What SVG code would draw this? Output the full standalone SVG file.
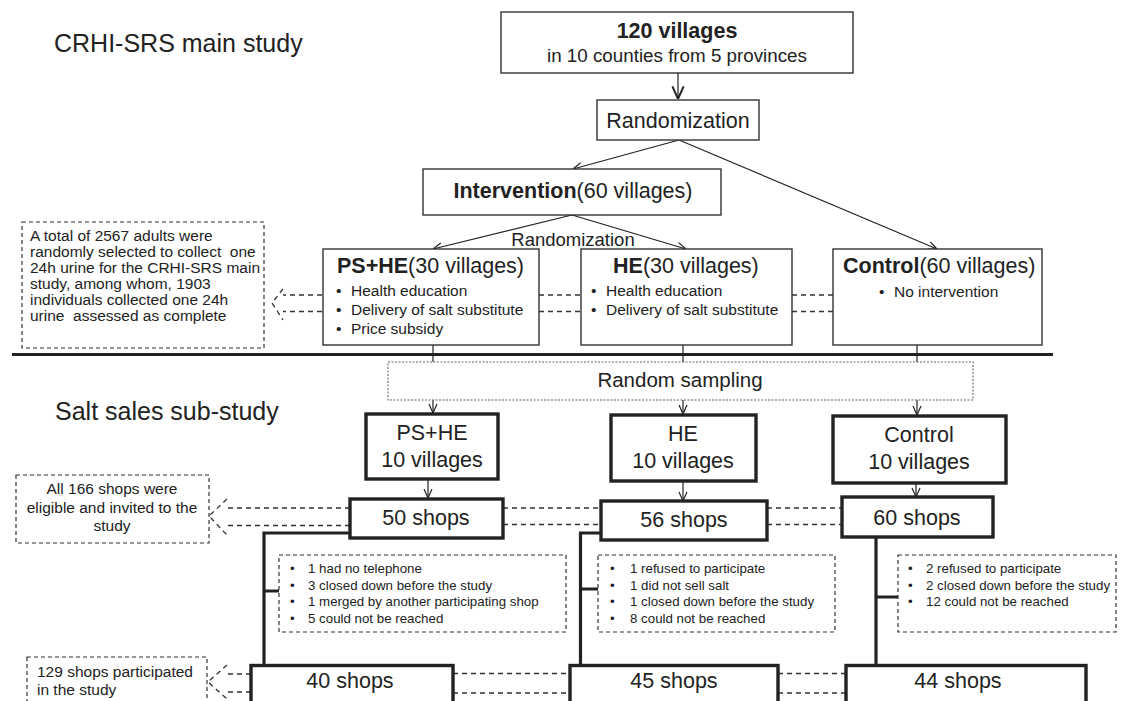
<svg xmlns="http://www.w3.org/2000/svg" width="1124" height="701" viewBox="0 0 1124 701">
<defs>
<style>
text{font-family:"Liberation Sans",Arial,sans-serif;fill:#222}
.box{fill:#fff;stroke:#333;stroke-width:1.4}
.tbox{fill:#fff;stroke:#222;stroke-width:3.4}
.note{fill:#fff;stroke:#333;stroke-width:1.2;stroke-dasharray:4,3}
.samp{fill:#fff;stroke:#666;stroke-width:1.1;stroke-dasharray:2,1.5}
.ln{stroke:#222;stroke-width:1.2;fill:none}
.dl{stroke:#333;stroke-width:1.3;fill:none;stroke-dasharray:5,4}
.th{stroke:#222;stroke-width:3.2;fill:none}
.t21{font-size:21.5px}
.t15{font-size:15.5px}
.t14{font-size:13.3px}
.big{font-size:25px}
.b{font-weight:bold}
.m{text-anchor:middle}
.pre{white-space:pre}
</style>
<marker id="arr" viewBox="0 0 10 10" refX="10" refY="5" markerWidth="10" markerHeight="10" markerUnits="userSpaceOnUse" orient="auto">
<path d="M1,1 L10,5 L1,9" fill="none" stroke="#222" stroke-width="1.2"/>
</marker>
<marker id="arrB" viewBox="0 0 10 10" refX="10" refY="5" markerWidth="14" markerHeight="14" markerUnits="userSpaceOnUse" orient="auto">
<path d="M1,1 L10,5 L1,9" fill="none" stroke="#222" stroke-width="1.4"/>
</marker>
</defs>

<text class="big" x="54" y="52">CRHI-SRS main study</text>
<text class="big" x="55" y="420">Salt sales sub-study</text>
<line x1="12" y1="354.5" x2="1053" y2="354.5" stroke="#222" stroke-width="3"/>

<g id="connectors">
<line class="ln" x1="678" y1="73" x2="678" y2="99" stroke-width="2" marker-end="url(#arrB)"/>
<line class="ln" x1="679" y1="140" x2="573" y2="169" marker-end="url(#arr)"/>
<line class="ln" x1="679" y1="140" x2="937" y2="249" marker-end="url(#arr)"/>
<line class="ln" x1="572" y1="215" x2="433" y2="249" marker-end="url(#arr)"/>
<line class="ln" x1="572" y1="215" x2="686" y2="249" marker-end="url(#arr)"/>
<line class="ln" x1="433" y1="345" x2="433" y2="362"/>
<line class="ln" x1="683" y1="345" x2="683" y2="362"/>
<line class="ln" x1="917" y1="345" x2="917" y2="362"/>
<line class="ln" x1="433" y1="400" x2="433" y2="413" marker-end="url(#arr)"/>
<line class="ln" x1="683" y1="400" x2="683" y2="414" marker-end="url(#arr)"/>
<line class="ln" x1="917" y1="400" x2="917" y2="415" marker-end="url(#arr)"/>
<line class="ln" x1="428" y1="480" x2="428" y2="498" marker-end="url(#arr)"/>
<line class="ln" x1="683" y1="481" x2="683" y2="501" marker-end="url(#arr)"/>
<line class="ln" x1="916" y1="483" x2="916" y2="497" marker-end="url(#arr)"/>
<path class="dl" d="M322,295 H283 M322,311.5 H283 M283,289 L272,303 L283,320"/>
<path class="dl" d="M539,295 H581 M539,311.5 H581 M792,295 H833 M792,311.5 H833"/>
<path class="dl" d="M350,508 H227 M350,525.5 H227 M227,499 L209,516 L227,535"/>
<path class="dl" d="M503,508 H601 M503,524.5 H601 M767,508 H842 M767,524.5 H842"/>
<path class="dl" d="M251,674 H227 M251,692 H227 M227,665 L208,682 L227,699"/>
<path class="dl" d="M453,673.5 H570 M453,693 H570 M778,673.5 H846 M778,693 H846"/>
<path class="th" d="M351,533 H264 V666 M264,591 H279"/>
<path class="th" d="M602,533 H580.5 V666 M580.5,589 H598"/>
<path class="th" d="M876,537 V666 M876,597 H898"/>
</g>

<g id="n120">
<rect class="box" x="501" y="12" width="352" height="61"/>
<text class="t21 b m" x="677" y="38">120 villages</text>
<text class="m" x="677" y="62" style="font-size:18.8px">in 10 counties from 5 provinces</text>
</g>
<g id="nRand">
<rect class="box" x="597" y="100" width="162" height="40"/>
<text class="t21 m" x="678" y="128">Randomization</text>
</g>
<g id="nInt">
<rect class="box" x="423" y="169" width="298" height="46"/>
<text class="t21 m" x="573" y="198"><tspan class="b">Intervention</tspan>(60 villages)</text>
</g>
<g id="lRand2">
<text class="m" x="573" y="246" style="font-size:18.5px">Randomization</text>
</g>
<g id="nPSHE">
<rect class="box" x="323" y="249" width="216" height="96"/>
<text class="t21" x="337" y="273"><tspan class="b">PS+HE</tspan>(30 villages)</text>
<text class="t15" x="336" y="296">•</text><text class="t15" x="351" y="296">Health education</text>
<text class="t15" x="336" y="315">•</text><text class="t15" x="351" y="315">Delivery of salt substitute</text>
<text class="t15" x="336" y="334">•</text><text class="t15" x="351" y="334">Price subsidy</text>
</g>
<g id="nHE">
<rect class="box" x="581" y="249" width="211" height="96"/>
<text class="t21" x="613" y="273"><tspan class="b">HE</tspan>(30 villages)</text>
<text class="t15" x="591" y="296">•</text><text class="t15" x="606" y="296">Health education</text>
<text class="t15" x="591" y="315">•</text><text class="t15" x="606" y="315">Delivery of salt substitute</text>
</g>
<g id="nCtrl">
<rect class="box" x="833" y="249" width="209" height="96"/>
<text class="t21" x="843" y="273"><tspan class="b">Control</tspan>(60 villages)</text>
<text class="t15" x="879" y="297">•</text><text class="t15" x="894" y="297">No intervention</text>
</g>
<g id="note1">
<rect class="note" x="22" y="222" width="242" height="126"/>
<text class="t15" x="30" y="241">A total of 2567 adults were</text>
<text class="t15 pre" x="30" y="257">randomly selected to collect  one</text>
<text class="t15" x="30" y="273">24h urine for the CRHI-SRS main</text>
<text class="t15" x="30" y="289">study, among whom, 1903</text>
<text class="t15" x="30" y="305">individuals collected one 24h</text>
<text class="t15 pre" x="30" y="321">urine  assessed as complete</text>
</g>
<g id="nSamp">
<rect class="samp" x="388" y="362" width="585" height="38"/>
<text class="m" x="680" y="387" style="font-size:20.5px">Random sampling</text>
</g>
<g id="v1">
<rect class="tbox" x="366" y="414" width="132" height="65"/>
<text class="t21 m" x="432" y="440">PS+HE</text>
<text class="t21 m" x="432" y="467">10 villages</text>
</g>
<g id="v2">
<rect class="tbox" x="611" y="415" width="145" height="66"/>
<text class="t21 m" x="683" y="441">HE</text>
<text class="t21 m" x="683" y="468">10 villages</text>
</g>
<g id="v3">
<rect class="tbox" x="833" y="416" width="173" height="67"/>
<text class="t21 m" x="919" y="442">Control</text>
<text class="t21 m" x="919" y="469">10 villages</text>
</g>
<g id="note2">
<rect class="note" x="16" y="475" width="193" height="68"/>
<text class="t15 m" x="112" y="494">All 166 shops were</text>
<text class="t15 m" x="112" y="513">eligible and invited to the</text>
<text class="t15 m" x="112" y="531">study</text>
</g>
<g id="s50">
<rect class="tbox" x="350" y="499" width="153" height="39"/>
<text class="t21 m" x="426" y="525">50 shops</text>
</g>
<g id="s56">
<rect class="tbox" x="601" y="501" width="166" height="39"/>
<text class="t21 m" x="684" y="527">56 shops</text>
</g>
<g id="s60">
<rect class="tbox" x="842" y="497" width="151" height="40"/>
<text class="t21 m" x="917" y="525">60 shops</text>
</g>
<g id="note3">
<rect class="note" x="279" y="555" width="287" height="77"/>
<text class="t14" x="290" y="573">•</text><text class="t14" x="308" y="573">1 had no telephone</text>
<text class="t14" x="290" y="589.5">•</text><text class="t14" x="308" y="589.5">3 closed down before the study</text>
<text class="t14" x="290" y="606">•</text><text class="t14" x="308" y="606">1 merged by another participating shop</text>
<text class="t14" x="290" y="622.5">•</text><text class="t14" x="308" y="622.5">5 could not be reached</text>
</g>
<g id="note4">
<rect class="note" x="598" y="555" width="237" height="77"/>
<text class="t14" x="610" y="573">•</text><text class="t14" x="630" y="573">1 refused to participate</text>
<text class="t14" x="610" y="589.5">•</text><text class="t14" x="630" y="589.5">1 did not sell salt</text>
<text class="t14" x="610" y="606">•</text><text class="t14" x="630" y="606">1 closed down before the study</text>
<text class="t14" x="610" y="622.5">•</text><text class="t14" x="630" y="622.5">8 could not be reached</text>
</g>
<g id="note5">
<rect class="note" x="898" y="555" width="218" height="77"/>
<text class="t14" x="908" y="573">•</text><text class="t14" x="926" y="573">2 refused to participate</text>
<text class="t14" x="908" y="589.5">•</text><text class="t14" x="926" y="589.5">2 closed down before the study</text>
<text class="t14" x="908" y="606">•</text><text class="t14" x="926" y="606">12 could not be reached</text>
</g>
<g id="note6">
<rect class="note" x="27" y="657" width="180" height="60"/>
<text class="t15" x="37" y="677">129 shops participated</text>
<text class="t15" x="37" y="695">in the study</text>
</g>
<g id="s40">
<rect class="tbox" x="251" y="665.5" width="202" height="60"/>
<text class="t21 m" x="350" y="688">40 shops</text>
</g>
<g id="s45">
<rect class="tbox" x="570" y="665.5" width="208" height="60"/>
<text class="t21 m" x="674" y="688">45 shops</text>
</g>
<g id="s44">
<rect class="tbox" x="846" y="665.5" width="240" height="60"/>
<text class="t21 m" x="958" y="688">44 shops</text>
</g>
</svg>
